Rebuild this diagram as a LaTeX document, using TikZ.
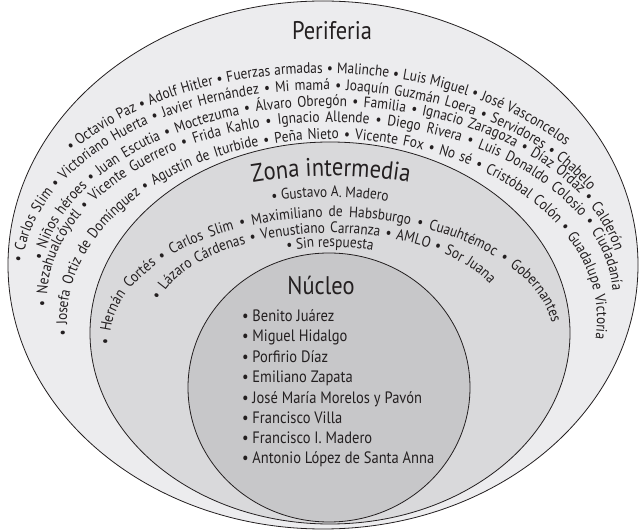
\documentclass[tikz,border=0pt]{standalone}
\usepackage{fontspec}
\setmainfont{PT Sans}[FakeStretch=0.88]
\usetikzlibrary{decorations.text}
\definecolor{ink}{RGB}{35,31,32}
\definecolor{perifill}{RGB}{236,236,238}
\definecolor{zonafill}{RGB}{217,217,219}
\definecolor{nucfill}{RGB}{199,199,201}
\newcommand\ringfont{\fontsize{15.2}{18}\selectfont}
\newcommand\titlefont{\fontsize{25.5}{30}\selectfont}
\newcommand\listfont{\fontsize{16.5}{20}\selectfont}

\begin{document}
\begin{tikzpicture}[x=1pt,y=1pt,inner sep=0pt,outer sep=0pt,
zone/.style={draw=ink,line width=0.8pt},
ringtext/.style={decorate,decoration={text along path,text align={fit to path stretching spaces},text color=ink,text={|\ringfont|#1}}},
ringmid/.style={decorate,decoration={text along path,text align=center,text color=ink,text={|\ringfont|#1}}},
ringtitle/.style={decorate,decoration={text along path,text align=center,text color=ink,text={|\titlefont|#1}}},
title/.style={text=ink,font=\titlefont,anchor=base},
item/.style={text=ink,font=\listfont,anchor=base west}]
\useasboundingbox (0,0) rectangle (640,530);
% the three zones
\coordinate (periferia) at (323,265);
\coordinate (intermedia) at (330,197);
\coordinate (nucleo) at (329,142.5);
\filldraw[zone,fill=perifill] (periferia) ellipse [x radius=315,y radius=264];
\filldraw[zone,fill=zonafill] (intermedia) ellipse [x radius=240,y radius=191];
\filldraw[zone,fill=nucfill] (nucleo) ellipse [x radius=141,y radius=134.5];
% titles
\node[title] (tperiferia) at (332,490) {Periferia};
\path[ringtitle={Zona intermedia}] ([shift={(110:474)}]331,-120) arc[start angle=110,end angle=70,radius=474];
\node[title] (tnucleo) at (321,235) {Núcleo};
% periferia
\coordinate (pc1) at (322,252);
\coordinate (pc2) at (322,255);
\coordinate (pc3) at (330,245);
\coordinate (pc4) at (330,230);
\coordinate (pc5) at (332,210);
\path[ringtext={• Octavio Paz • Adolf Hitler • Fuerzas armadas • Malinche • Luis Miguel • José Vasconcelos}]
  ([shift={(142:318 and 205)}]pc1) arc[start angle=142,end angle=40,x radius=318,y radius=205];
\path[ringtext={• Carlos Slim • Victoriano Huerta • Javier Hernández • Mi mamá • Joaquín Guzmán Loera • Servidores • Chabelo}]
  ([shift={(176:300 and 185)}]pc2) arc[start angle=176,end angle=27,x radius=300,y radius=185];
\path[ringtext={• Niños héroes • Juan Escutia • Moctezuma • Álvaro Obregón • Familia • Ignacio Zaragoza • Díaz Ordaz • Calderón}]
  ([shift={(172:290 and 179)}]pc3) arc[start angle=172,end angle=11,x radius=290,y radius=179];
\path[ringtext={• Nezahualcóyotl • Vicente Guerrero • Frida Kahlo • Ignacio Allende • Diego Rivera • Luis Donaldo Colosio • Ciudadanía}]
  ([shift={(182:283 and 178)}]pc4) arc[start angle=182,end angle=3,x radius=283,y radius=178];
\path[ringtext={• Josefa Ortiz de Domínguez • Agustín de Iturbide • Peña Nieto • Vicente Fox • No sé • Cristóbal Colón • Guadalupe Victoria}]
  ([shift={(185:265 and 181)}]pc5) arc[start angle=185,end angle=-6,x radius=265,y radius=181];
% zona intermedia
\coordinate (zc1) at (330,200);
\coordinate (zc2) at (332,190);
\coordinate (zc3) at (330,210);
\path[ringmid={• Gustavo A. Madero}]
  ([shift={(125:230 and 133)}]zc1) arc[start angle=125,end angle=55,x radius=230,y radius=133];
\path[ringtext={• Hernán Cortés • Carlos Slim • Maximiliano de Habsburgo • Cuauhtémoc • Gobernantes}]
  ([shift={(182:222 and 123)}]zc2) arc[start angle=182,end angle=8,x radius=222,y radius=123];
\path[ringtext={• Lázaro Cárdenas • Venustiano Carranza • AMLO • Sor Juana}]
  ([shift={(167:175 and 87)}]zc3) arc[start angle=167,end angle=24,x radius=175,y radius=87];
\path[ringmid={• Sin respuesta}]
  ([shift={(120:150 and 83)}]zc1) arc[start angle=120,end angle=60,x radius=150,y radius=83];
% nucleo
\node[item] (n1) at (242,208) {• Benito Juárez};
\node[item] (n2) at (242,188) {• Miguel Hidalgo};
\node[item] (n3) at (242,167) {• Porfirio Díaz};
\node[item] (n4) at (242,147) {• Emiliano Zapata};
\node[item] (n5) at (242,126) {• José María Morelos y Pavón};
\node[item] (n6) at (242,106) {• Francisco Villa};
\node[item] (n7) at (242,86) {• Francisco I. Madero};
\node[item] (n8) at (242,66) {• Antonio López de Santa Anna};
\end{tikzpicture}
\end{document}
